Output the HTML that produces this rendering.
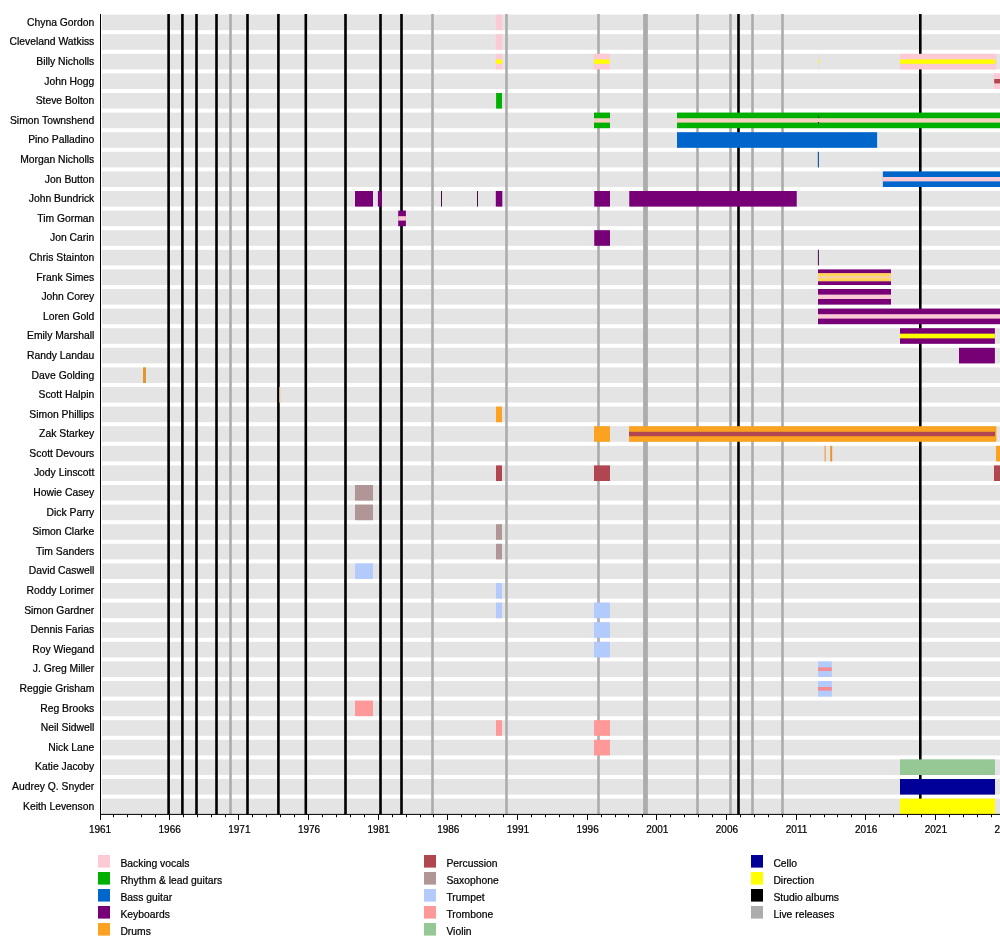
<!DOCTYPE html><html><head><meta charset="utf-8"><style>html,body{margin:0;padding:0;background:#fff;width:1000px;height:943px;overflow:hidden}svg{display:block}text{font-family:"Liberation Sans",sans-serif;stroke:#000;stroke-width:0.22px}svg{will-change:transform}</style></head><body>
<svg width="1000" height="943" viewBox="0 0 1000 943">
<rect width="1000" height="943" fill="#fff"/>
<g fill="#e4e4e4">
<rect x="101.80" y="14.60" width="898.20" height="15.60"/>
<rect x="101.80" y="34.20" width="898.20" height="15.60"/>
<rect x="101.80" y="53.80" width="898.20" height="15.60"/>
<rect x="101.80" y="73.40" width="898.20" height="15.60"/>
<rect x="101.80" y="93.00" width="898.20" height="15.60"/>
<rect x="101.80" y="112.60" width="898.20" height="15.60"/>
<rect x="101.80" y="132.20" width="898.20" height="15.60"/>
<rect x="101.80" y="151.80" width="898.20" height="15.60"/>
<rect x="101.80" y="171.40" width="898.20" height="15.60"/>
<rect x="101.80" y="191.00" width="898.20" height="15.60"/>
<rect x="101.80" y="210.60" width="898.20" height="15.60"/>
<rect x="101.80" y="230.20" width="898.20" height="15.60"/>
<rect x="101.80" y="249.80" width="898.20" height="15.60"/>
<rect x="101.80" y="269.40" width="898.20" height="15.60"/>
<rect x="101.80" y="289.00" width="898.20" height="15.60"/>
<rect x="101.80" y="308.60" width="898.20" height="15.60"/>
<rect x="101.80" y="328.20" width="898.20" height="15.60"/>
<rect x="101.80" y="347.80" width="898.20" height="15.60"/>
<rect x="101.80" y="367.40" width="898.20" height="15.60"/>
<rect x="101.80" y="387.00" width="898.20" height="15.60"/>
<rect x="101.80" y="406.60" width="898.20" height="15.60"/>
<rect x="101.80" y="426.20" width="898.20" height="15.60"/>
<rect x="101.80" y="445.80" width="898.20" height="15.60"/>
<rect x="101.80" y="465.40" width="898.20" height="15.60"/>
<rect x="101.80" y="485.00" width="898.20" height="15.60"/>
<rect x="101.80" y="504.60" width="898.20" height="15.60"/>
<rect x="101.80" y="524.20" width="898.20" height="15.60"/>
<rect x="101.80" y="543.80" width="898.20" height="15.60"/>
<rect x="101.80" y="563.40" width="898.20" height="15.60"/>
<rect x="101.80" y="583.00" width="898.20" height="15.60"/>
<rect x="101.80" y="602.60" width="898.20" height="15.60"/>
<rect x="101.80" y="622.20" width="898.20" height="15.60"/>
<rect x="101.80" y="641.80" width="898.20" height="15.60"/>
<rect x="101.80" y="661.40" width="898.20" height="15.60"/>
<rect x="101.80" y="681.00" width="898.20" height="15.60"/>
<rect x="101.80" y="700.60" width="898.20" height="15.60"/>
<rect x="101.80" y="720.20" width="898.20" height="15.60"/>
<rect x="101.80" y="739.80" width="898.20" height="15.60"/>
<rect x="101.80" y="759.40" width="898.20" height="15.60"/>
<rect x="101.80" y="779.00" width="898.20" height="15.60"/>
<rect x="101.80" y="798.60" width="898.20" height="15.60"/>
</g>
<g>
<rect x="167.30" y="14.00" width="2.6" height="800.40" fill="#000"/>
<rect x="181.10" y="14.00" width="2.6" height="800.40" fill="#000"/>
<rect x="195.20" y="14.00" width="2.6" height="800.40" fill="#000"/>
<rect x="215.20" y="14.00" width="2.6" height="800.40" fill="#000"/>
<rect x="246.20" y="14.00" width="2.6" height="800.40" fill="#000"/>
<rect x="277.10" y="14.00" width="2.6" height="800.40" fill="#000"/>
<rect x="304.50" y="14.00" width="2.6" height="800.40" fill="#000"/>
<rect x="344.20" y="14.00" width="2.6" height="800.40" fill="#000"/>
<rect x="379.20" y="14.00" width="2.6" height="800.40" fill="#000"/>
<rect x="400.20" y="14.00" width="2.6" height="800.40" fill="#000"/>
<rect x="737.20" y="14.00" width="2.6" height="800.40" fill="#000"/>
<rect x="919.00" y="14.00" width="2.6" height="800.40" fill="#000"/>
<rect x="229.20" y="14.00" width="2.60" height="800.40" fill="#acacac"/>
<rect x="431.20" y="14.00" width="2.60" height="800.40" fill="#acacac"/>
<rect x="505.20" y="14.00" width="2.60" height="800.40" fill="#acacac"/>
<rect x="597.20" y="14.00" width="2.60" height="800.40" fill="#acacac"/>
<rect x="643.10" y="14.00" width="4.80" height="800.40" fill="#acacac"/>
<rect x="696.20" y="14.00" width="2.60" height="800.40" fill="#acacac"/>
<rect x="729.20" y="14.00" width="2.60" height="800.40" fill="#acacac"/>
<rect x="751.20" y="14.00" width="2.60" height="800.40" fill="#acacac"/>
<rect x="781.20" y="14.00" width="2.60" height="800.40" fill="#acacac"/>
</g>
<g>
<rect x="495.80" y="14.60" width="6.50" height="15.60" fill="#fccad5"/>
<rect x="495.80" y="34.20" width="6.50" height="15.60" fill="#fccad5"/>
<rect x="495.80" y="53.80" width="6.50" height="15.60" fill="#fccad5"/>
<rect x="496.10" y="59.40" width="5.90" height="4.40" fill="#ffff00"/>
<rect x="593.60" y="53.80" width="16.40" height="15.60" fill="#fccad5"/>
<rect x="594.00" y="59.40" width="15.60" height="4.40" fill="#ffff00"/>
<rect x="818.20" y="53.80" width="1.20" height="15.60" fill="#eadadd"/>
<rect x="818.30" y="59.50" width="1.80" height="4.20" fill="#eef070"/>
<rect x="900.00" y="53.80" width="96.20" height="15.60" fill="#fccad5"/>
<rect x="900.00" y="59.40" width="95.20" height="4.40" fill="#ffff00"/>
<rect x="993.80" y="73.40" width="6.20" height="15.60" fill="#fccad5"/>
<rect x="994.20" y="79.00" width="5.80" height="4.40" fill="#b04650"/>
<rect x="496.10" y="93.00" width="5.90" height="15.60" fill="#00b000"/>
<rect x="594.00" y="112.60" width="16.00" height="15.60" fill="#00b000"/>
<rect x="594.00" y="118.20" width="16.00" height="4.40" fill="#f6d0c2"/>
<rect x="677.00" y="112.60" width="323.00" height="15.60" fill="#00b000"/>
<rect x="677.00" y="118.20" width="323.00" height="4.40" fill="#f6d0c2"/>
<rect x="677.00" y="132.20" width="200.10" height="15.60" fill="#0066cc"/>
<rect x="817.80" y="151.80" width="1.20" height="15.60" fill="#1458a8"/>
<rect x="882.90" y="171.40" width="117.10" height="15.60" fill="#0066cc"/>
<rect x="882.90" y="177.00" width="117.10" height="4.40" fill="#fccad5"/>
<rect x="355.00" y="191.00" width="18.00" height="15.60" fill="#770077"/>
<rect x="377.90" y="191.00" width="3.80" height="15.60" fill="#770077"/>
<rect x="495.80" y="191.00" width="6.50" height="15.60" fill="#770077"/>
<rect x="594.25" y="191.00" width="15.75" height="15.60" fill="#770077"/>
<rect x="629.25" y="191.00" width="167.50" height="15.60" fill="#770077"/>
<rect x="398.20" y="210.60" width="7.70" height="15.60" fill="#770077"/>
<rect x="398.20" y="216.20" width="7.70" height="4.40" fill="#fccad5"/>
<rect x="594.25" y="230.20" width="15.75" height="15.60" fill="#770077"/>
<rect x="817.90" y="249.80" width="1.00" height="15.60" fill="#4a0a4a"/>
<rect x="441.00" y="191.00" width="1.00" height="15.60" fill="#4a0a4a"/>
<rect x="477.00" y="191.00" width="1.00" height="15.60" fill="#4a0a4a"/>
<rect x="818.00" y="269.40" width="73.00" height="15.60" fill="#770077"/>
<rect x="818.00" y="273.10" width="73.00" height="8.20" fill="#ffd65a"/>
<rect x="818.00" y="276.20" width="73.00" height="2.00" fill="#f7ccb0"/>
<rect x="818.00" y="289.00" width="73.00" height="15.60" fill="#770077"/>
<rect x="818.00" y="294.60" width="73.00" height="4.40" fill="#fccad5"/>
<rect x="818.00" y="308.60" width="182.00" height="15.60" fill="#770077"/>
<rect x="818.00" y="314.20" width="182.00" height="4.40" fill="#fccad5"/>
<rect x="900.00" y="328.20" width="94.90" height="15.60" fill="#770077"/>
<rect x="900.00" y="333.65" width="94.90" height="4.70" fill="#ffff00"/>
<rect x="959.00" y="347.80" width="35.90" height="15.60" fill="#770077"/>
<rect x="143.00" y="367.40" width="3.00" height="15.60" fill="#e0982c"/>
<rect x="279.30" y="387.00" width="1.20" height="15.60" fill="#f4d2a0"/>
<rect x="496.00" y="406.60" width="6.00" height="15.60" fill="#fba220"/>
<rect x="594.00" y="426.20" width="16.00" height="15.60" fill="#fba220"/>
<rect x="629.00" y="426.20" width="367.40" height="15.60" fill="#fba220"/>
<rect x="629.00" y="431.80" width="366.00" height="4.40" fill="#b04650"/>
<rect x="824.30" y="445.80" width="1.70" height="15.60" fill="#eab27a"/>
<rect x="830.20" y="445.80" width="2.00" height="15.60" fill="#e9952c"/>
<rect x="996.00" y="445.80" width="4.00" height="15.60" fill="#fba220"/>
<rect x="496.00" y="465.40" width="6.00" height="15.60" fill="#b04650"/>
<rect x="594.00" y="465.40" width="16.00" height="15.60" fill="#b04650"/>
<rect x="994.00" y="465.40" width="6.00" height="15.60" fill="#b04650"/>
<rect x="355.00" y="485.00" width="18.00" height="15.60" fill="#b09696"/>
<rect x="355.00" y="504.60" width="18.00" height="15.60" fill="#b09696"/>
<rect x="496.00" y="524.20" width="6.00" height="15.60" fill="#b09696"/>
<rect x="496.00" y="543.80" width="6.00" height="15.60" fill="#b09696"/>
<rect x="355.00" y="563.40" width="18.00" height="15.60" fill="#b2cbfc"/>
<rect x="496.00" y="583.00" width="6.00" height="15.60" fill="#b2cbfc"/>
<rect x="496.00" y="602.60" width="6.00" height="15.60" fill="#b2cbfc"/>
<rect x="594.00" y="602.60" width="16.00" height="15.60" fill="#b2cbfc"/>
<rect x="594.00" y="622.20" width="16.00" height="15.60" fill="#b2cbfc"/>
<rect x="594.00" y="641.80" width="16.00" height="15.60" fill="#b2cbfc"/>
<rect x="818.10" y="661.40" width="13.70" height="15.60" fill="#b2cbfc"/>
<rect x="818.10" y="667.40" width="13.70" height="3.60" fill="#f58a90"/>
<rect x="818.10" y="681.00" width="13.70" height="15.60" fill="#b2cbfc"/>
<rect x="818.10" y="687.00" width="13.70" height="3.60" fill="#f58a90"/>
<rect x="355.00" y="700.60" width="18.00" height="15.60" fill="#ff9898"/>
<rect x="496.00" y="720.20" width="6.00" height="15.60" fill="#ff9898"/>
<rect x="594.00" y="720.20" width="16.00" height="15.60" fill="#ff9898"/>
<rect x="594.00" y="739.80" width="16.00" height="15.60" fill="#ff9898"/>
<rect x="900.00" y="759.40" width="95.00" height="15.60" fill="#96c896"/>
<rect x="900.00" y="779.00" width="95.00" height="15.60" fill="#000099"/>
<rect x="900.00" y="798.60" width="95.00" height="15.60" fill="#ffff00"/>
<rect x="818.10" y="115.80" width="1.00" height="2.00" fill="#0a3a0a"/>
<rect x="818.10" y="122.00" width="1.00" height="2.00" fill="#0a3a0a"/>
</g>
<g fill="#000">
<rect x="100" y="14.00" width="1" height="801.00"/>
<rect x="100" y="813.90" width="900" height="1"/>
<rect x="100" y="814.40" width="1" height="5.5"/>
<rect x="113" y="814.40" width="1" height="2.8"/>
<rect x="127" y="814.40" width="1" height="2.8"/>
<rect x="141" y="814.40" width="1" height="2.8"/>
<rect x="155" y="814.40" width="1" height="2.8"/>
<rect x="169" y="814.40" width="1" height="5.5"/>
<rect x="183" y="814.40" width="1" height="2.8"/>
<rect x="197" y="814.40" width="1" height="2.8"/>
<rect x="211" y="814.40" width="1" height="2.8"/>
<rect x="225" y="814.40" width="1" height="2.8"/>
<rect x="238" y="814.40" width="1" height="5.5"/>
<rect x="252" y="814.40" width="1" height="2.8"/>
<rect x="266" y="814.40" width="1" height="2.8"/>
<rect x="280" y="814.40" width="1" height="2.8"/>
<rect x="294" y="814.40" width="1" height="2.8"/>
<rect x="308" y="814.40" width="1" height="5.5"/>
<rect x="322" y="814.40" width="1" height="2.8"/>
<rect x="336" y="814.40" width="1" height="2.8"/>
<rect x="350" y="814.40" width="1" height="2.8"/>
<rect x="364" y="814.40" width="1" height="2.8"/>
<rect x="378" y="814.40" width="1" height="5.5"/>
<rect x="392" y="814.40" width="1" height="2.8"/>
<rect x="406" y="814.40" width="1" height="2.8"/>
<rect x="420" y="814.40" width="1" height="2.8"/>
<rect x="433" y="814.40" width="1" height="2.8"/>
<rect x="447" y="814.40" width="1" height="5.5"/>
<rect x="461" y="814.40" width="1" height="2.8"/>
<rect x="475" y="814.40" width="1" height="2.8"/>
<rect x="489" y="814.40" width="1" height="2.8"/>
<rect x="503" y="814.40" width="1" height="2.8"/>
<rect x="517" y="814.40" width="1" height="5.5"/>
<rect x="531" y="814.40" width="1" height="2.8"/>
<rect x="545" y="814.40" width="1" height="2.8"/>
<rect x="559" y="814.40" width="1" height="2.8"/>
<rect x="573" y="814.40" width="1" height="2.8"/>
<rect x="587" y="814.40" width="1" height="5.5"/>
<rect x="601" y="814.40" width="1" height="2.8"/>
<rect x="615" y="814.40" width="1" height="2.8"/>
<rect x="628" y="814.40" width="1" height="2.8"/>
<rect x="642" y="814.40" width="1" height="2.8"/>
<rect x="656" y="814.40" width="1" height="5.5"/>
<rect x="670" y="814.40" width="1" height="2.8"/>
<rect x="684" y="814.40" width="1" height="2.8"/>
<rect x="698" y="814.40" width="1" height="2.8"/>
<rect x="712" y="814.40" width="1" height="2.8"/>
<rect x="726" y="814.40" width="1" height="5.5"/>
<rect x="740" y="814.40" width="1" height="2.8"/>
<rect x="754" y="814.40" width="1" height="2.8"/>
<rect x="768" y="814.40" width="1" height="2.8"/>
<rect x="782" y="814.40" width="1" height="2.8"/>
<rect x="796" y="814.40" width="1" height="5.5"/>
<rect x="810" y="814.40" width="1" height="2.8"/>
<rect x="824" y="814.40" width="1" height="2.8"/>
<rect x="837" y="814.40" width="1" height="2.8"/>
<rect x="851" y="814.40" width="1" height="2.8"/>
<rect x="865" y="814.40" width="1" height="5.5"/>
<rect x="879" y="814.40" width="1" height="2.8"/>
<rect x="893" y="814.40" width="1" height="2.8"/>
<rect x="907" y="814.40" width="1" height="2.8"/>
<rect x="921" y="814.40" width="1" height="2.8"/>
<rect x="935" y="814.40" width="1" height="5.5"/>
<rect x="949" y="814.40" width="1" height="2.8"/>
<rect x="963" y="814.40" width="1" height="2.8"/>
<rect x="977" y="814.40" width="1" height="2.8"/>
<rect x="991" y="814.40" width="1" height="2.8"/>
<rect x="1005" y="814.40" width="1" height="5.5"/>
</g>
<g font-size="10.00" fill="#000" text-anchor="middle">
<text x="100.05" y="832.6">1961</text>
<text x="169.70" y="832.6">1966</text>
<text x="239.35" y="832.6">1971</text>
<text x="309.00" y="832.6">1976</text>
<text x="378.65" y="832.6">1981</text>
<text x="448.30" y="832.6">1986</text>
<text x="517.95" y="832.6">1991</text>
<text x="587.60" y="832.6">1996</text>
<text x="657.25" y="832.6">2001</text>
<text x="726.90" y="832.6">2006</text>
<text x="796.55" y="832.6">2011</text>
<text x="866.20" y="832.6">2016</text>
<text x="935.85" y="832.6">2021</text>
<text x="1005.50" y="832.6">2026</text>
</g>
<g font-size="10.35" fill="#000" text-anchor="end">
<text x="94.3" y="25.80">Chyna Gordon</text>
<text x="94.3" y="45.39">Cleveland Watkiss</text>
<text x="94.3" y="64.99">Billy Nicholls</text>
<text x="94.3" y="84.58">John Hogg</text>
<text x="94.3" y="104.18">Steve Bolton</text>
<text x="94.3" y="123.77">Simon Townshend</text>
<text x="94.3" y="143.37">Pino Palladino</text>
<text x="94.3" y="162.97">Morgan Nicholls</text>
<text x="94.3" y="182.56">Jon Button</text>
<text x="94.3" y="202.16">John Bundrick</text>
<text x="94.3" y="221.75">Tim Gorman</text>
<text x="94.3" y="241.34">Jon Carin</text>
<text x="94.3" y="260.94">Chris Stainton</text>
<text x="94.3" y="280.53">Frank Simes</text>
<text x="94.3" y="300.13">John Corey</text>
<text x="94.3" y="319.72">Loren Gold</text>
<text x="94.3" y="339.32">Emily Marshall</text>
<text x="94.3" y="358.92">Randy Landau</text>
<text x="94.3" y="378.51">Dave Golding</text>
<text x="94.3" y="398.10">Scott Halpin</text>
<text x="94.3" y="417.70">Simon Phillips</text>
<text x="94.3" y="437.30">Zak Starkey</text>
<text x="94.3" y="456.89">Scott Devours</text>
<text x="94.3" y="476.48">Jody Linscott</text>
<text x="94.3" y="496.08">Howie Casey</text>
<text x="94.3" y="515.67">Dick Parry</text>
<text x="94.3" y="535.27">Simon Clarke</text>
<text x="94.3" y="554.86">Tim Sanders</text>
<text x="94.3" y="574.46">David Caswell</text>
<text x="94.3" y="594.05">Roddy Lorimer</text>
<text x="94.3" y="613.65">Simon Gardner</text>
<text x="94.3" y="633.24">Dennis Farias</text>
<text x="94.3" y="652.84">Roy Wiegand</text>
<text x="94.3" y="672.43">J. Greg Miller</text>
<text x="94.3" y="692.03">Reggie Grisham</text>
<text x="94.3" y="711.62">Reg Brooks</text>
<text x="94.3" y="731.22">Neil Sidwell</text>
<text x="94.3" y="750.81">Nick Lane</text>
<text x="94.3" y="770.41">Katie Jacoby</text>
<text x="94.3" y="790.00">Audrey Q. Snyder</text>
<text x="94.3" y="809.60">Keith Levenson</text>
</g>
<rect x="98.00" y="855.00" width="12" height="12.6" fill="#fccad5"/>
<text x="120.40" y="866.90" font-size="10.35" fill="#000">Backing vocals</text>
<rect x="98.00" y="872.00" width="12" height="12.6" fill="#00b000"/>
<text x="120.40" y="883.90" font-size="10.35" fill="#000">Rhythm &amp; lead guitars</text>
<rect x="98.00" y="889.00" width="12" height="12.6" fill="#0066cc"/>
<text x="120.40" y="900.90" font-size="10.35" fill="#000">Bass guitar</text>
<rect x="98.00" y="906.00" width="12" height="12.6" fill="#770077"/>
<text x="120.40" y="917.90" font-size="10.35" fill="#000">Keyboards</text>
<rect x="98.00" y="923.00" width="12" height="12.6" fill="#fba220"/>
<text x="120.40" y="934.90" font-size="10.35" fill="#000">Drums</text>
<rect x="424.00" y="855.00" width="12" height="12.6" fill="#b04650"/>
<text x="446.40" y="866.90" font-size="10.35" fill="#000">Percussion</text>
<rect x="424.00" y="872.00" width="12" height="12.6" fill="#b09696"/>
<text x="446.40" y="883.90" font-size="10.35" fill="#000">Saxophone</text>
<rect x="424.00" y="889.00" width="12" height="12.6" fill="#b2cbfc"/>
<text x="446.40" y="900.90" font-size="10.35" fill="#000">Trumpet</text>
<rect x="424.00" y="906.00" width="12" height="12.6" fill="#ff9898"/>
<text x="446.40" y="917.90" font-size="10.35" fill="#000">Trombone</text>
<rect x="424.00" y="923.00" width="12" height="12.6" fill="#96c896"/>
<text x="446.40" y="934.90" font-size="10.35" fill="#000">Violin</text>
<rect x="751.00" y="855.00" width="12" height="12.6" fill="#000099"/>
<text x="773.40" y="866.90" font-size="10.35" fill="#000">Cello</text>
<rect x="751.00" y="872.00" width="12" height="12.6" fill="#ffff00"/>
<text x="773.40" y="883.90" font-size="10.35" fill="#000">Direction</text>
<rect x="751.00" y="889.00" width="12" height="12.6" fill="#000000"/>
<text x="773.40" y="900.90" font-size="10.35" fill="#000">Studio albums</text>
<rect x="751.00" y="906.00" width="12" height="12.6" fill="#acacac"/>
<text x="773.40" y="917.90" font-size="10.35" fill="#000">Live releases</text>
</svg></body></html>
